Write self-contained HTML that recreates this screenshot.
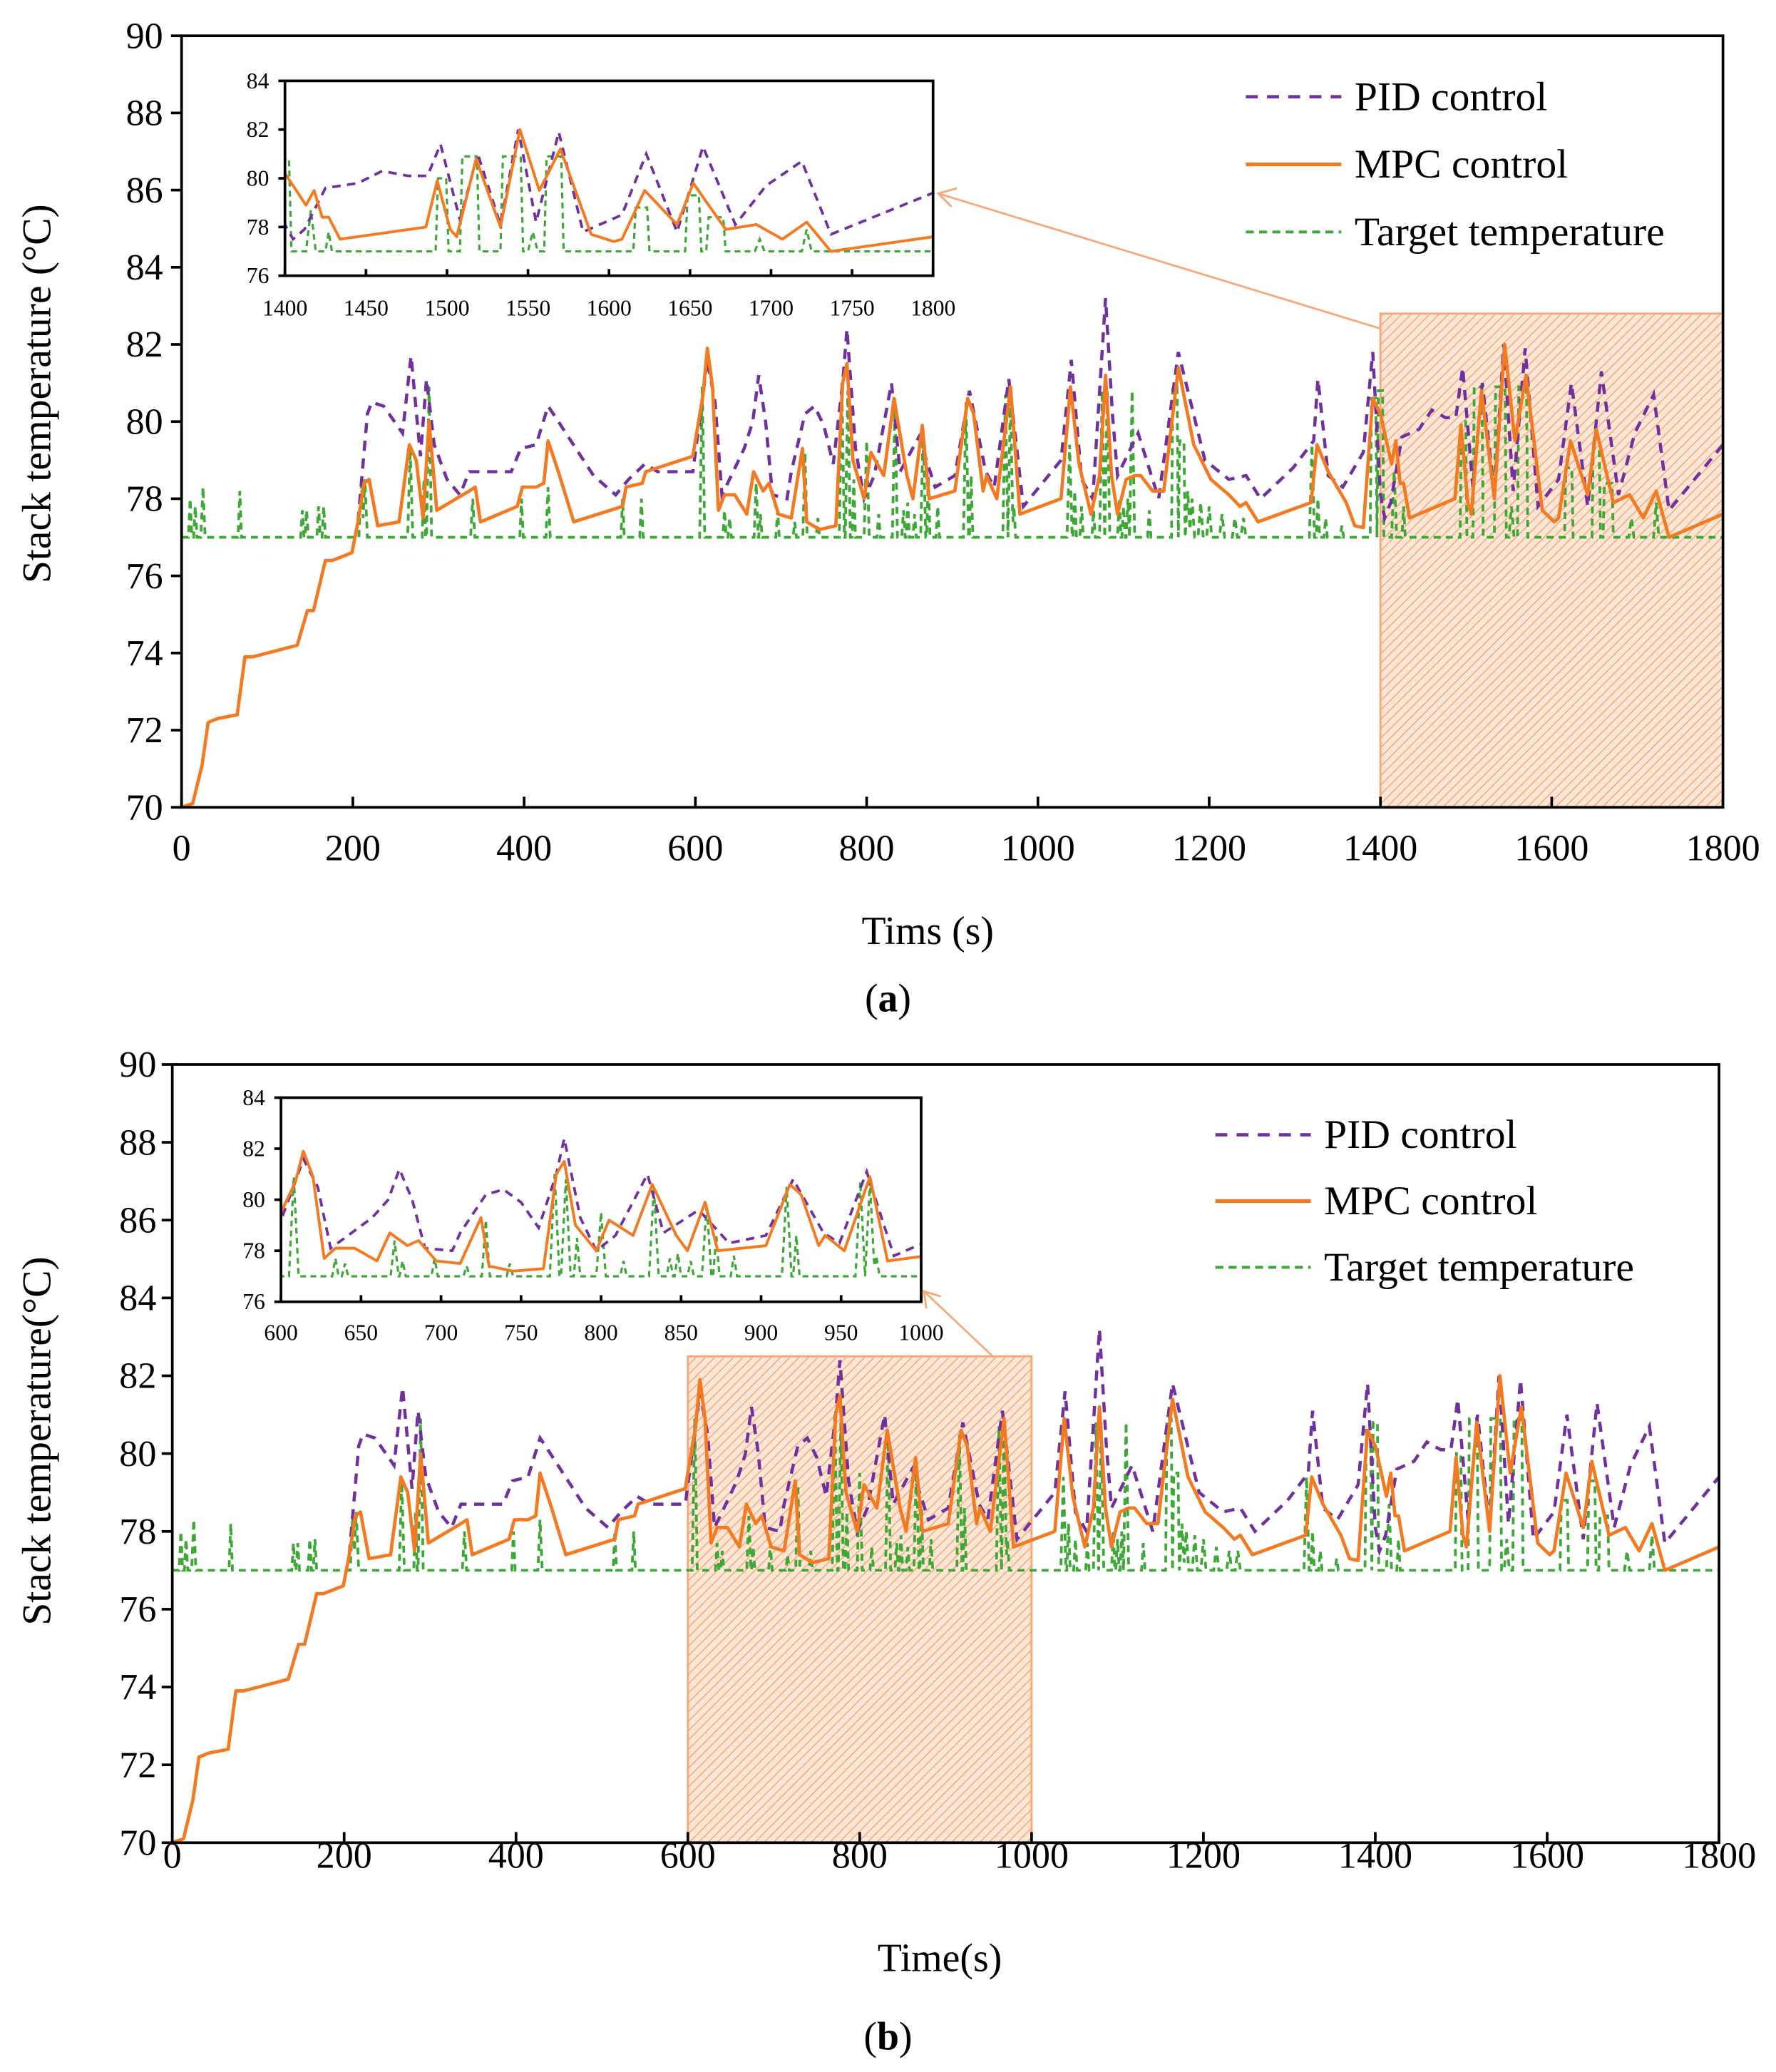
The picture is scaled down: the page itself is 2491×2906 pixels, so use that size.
<!DOCTYPE html>
<html><head><meta charset="utf-8"><style>
html,body{margin:0;padding:0;background:#fff}
svg{display:block}
text{font-family:"Liberation Serif",serif;fill:#000}
</style></head><body>
<svg id="fig" width="2491" height="2906" viewBox="0 0 1340 1563" preserveAspectRatio="none" xmlns="http://www.w3.org/2000/svg">
<defs>
<pattern id="hatch" patternUnits="userSpaceOnUse" width="5" height="5" patternTransform="rotate(45)">
<rect width="5" height="5" fill="#fde6d6"/>
<line x1="0" y1="0" x2="0" y2="5" stroke="#f6a878" stroke-width="1.6"/>
</pattern>
</defs>
</svg>
<script>
// ===== DATA =====
const tMPC=[0,13,24,31,42,65,74,83,135,147,154,168,176,199,206,213,219,229,254,266,274,282,289,298,336,343,349,392,398,414,423,428,440,458,515,519,538,542,597,609,614,620,627,634,646,660,668,679,686,697,712,725,730,745,764,772,777,784,797,805,820,832,847,854,865,873,903,918,925,936,940,952,968,979,1027,1038,1048,1062,1072,1079,1086,1093,1103,1113,1120,1134,1147,1164,1182,1202,1223,1236,1243,1257,1319,1326,1339,1360,1370,1380,1391,1400,1413,1418,1423,1427,1434,1487,1494,1502,1506,1518,1533,1545,1557,1570,1589,1603,1608,1622,1642,1652,1672,1691,1707,1722,1737,1800];
const vMPC=[70,70.1,71.1,72.2,72.3,72.4,73.9,73.9,74.2,75.1,75.1,76.4,76.4,76.6,77.4,78.4,78.5,77.3,77.4,79.4,79.0,77.5,80.0,77.7,78.2,78.3,77.4,77.8,78.3,78.3,78.4,79.5,78.7,77.4,77.8,78.3,78.4,78.7,79.1,80.7,81.9,80.9,77.7,78.1,78.1,77.6,78.7,78.2,78.4,77.6,77.5,79.3,77.4,77.2,77.3,81.0,81.5,79.0,78.0,79.2,78.6,80.6,78.6,78.0,79.9,78.0,78.2,80.6,80.2,78.2,78.6,78.0,80.9,77.6,78.0,80.9,78.9,77.6,78.6,81.2,78.6,77.6,78.5,78.6,78.6,78.2,78.2,81.4,79.4,78.5,78.1,77.8,77.9,77.4,77.9,79.4,78.7,77.9,77.3,77.25,80.6,80.2,78.9,79.5,78.4,78.4,77.5,78.0,79.9,77.9,77.6,80.8,78.0,82.0,79.5,81.2,77.7,77.4,77.5,79.5,78.1,79.8,77.9,78.1,77.5,78.2,77.0,77.6];
const tPID=[206,217,222,236,258,268,279,286,295,310,325,336,349,385,396,414,428,440,481,507,522,541,556,597,609,614,623,631,642,657,667,674,682,690,707,712,728,739,750,761,772,777,787,797,809,829,839,861,880,903,920,939,949,966,983,1027,1039,1051,1064,1079,1087,1093,1117,1141,1164,1195,1223,1243,1260,1298,1322,1327,1339,1356,1380,1391,1400,1405,1412,1425,1445,1460,1476,1488,1496,1508,1519,1533,1544,1555,1569,1584,1608,1623,1642,1658,1678,1697,1719,1737,1800];
const vPID=[77.4,80.2,80.5,80.4,79.7,81.7,79.1,81.1,79.4,78.5,78.1,78.7,78.7,78.7,79.3,79.4,80.4,80.0,78.6,78.1,78.5,78.9,78.7,78.7,80.7,81.6,80.5,78.1,78.6,79.3,80.0,81.2,80.0,78.1,78.0,78.7,80.2,80.4,79.9,78.9,81.0,82.4,79.3,78.0,78.6,81.0,78.7,79.6,78.3,78.6,80.8,78.7,78.3,81.1,77.8,79.0,81.6,78.5,78.0,83.2,80.2,78.6,79.7,78.0,81.8,79.0,78.5,78.6,78.0,78.8,79.5,81.1,78.6,78.3,79.2,81.8,78.1,77.5,77.9,79.6,79.8,80.3,80.1,80.1,81.4,78.3,81.0,78.1,82.0,78.2,81.9,77.8,78.5,81.0,77.8,81.3,78.1,79.7,80.7,77.7,79.4];
const baseTarget=77;
const spikeT=[10,16,25,68,141,146,160,166,210,214,267,283,289,340,397,428,515,537,608,634,640,671,676,696,716,728,743,771,778,785,800,814,833,843,848,856,866,872,883,916,922,962,968,972,1037,1043,1051,1065,1075,1081,1095,1100,1105,1110,1130,1160,1168,1175,1180,1190,1200,1215,1230,1240,1320,1327,1336,1355,1392,1400,1416,1427,1497,1514,1540,1553,1566,1620,1652,1666,1693,1722];
const spikeV=[78.0,77.8,78.3,78.2,77.7,77.7,77.8,77.8,78.4,78.5,79.3,78.5,80.9,78.0,78.0,78.3,78.0,78.0,80.9,77.7,77.5,78.4,77.6,77.7,77.4,79.2,77.5,81.0,80.8,78.5,79.5,77.6,80.5,77.7,77.9,77.6,79.8,78.6,77.8,80.5,78.6,80.7,80.7,77.8,79.4,78.2,77.8,77.7,80.8,80.8,78.0,77.8,78.0,80.8,77.7,80.9,79.5,78.2,78.0,77.9,77.8,77.6,77.5,77.5,79.4,78.0,77.5,77.3,80.6,80.8,78.7,77.8,80.0,80.9,80.9,77.8,80.9,78.8,79.3,78.4,77.5,77.9];
const spikeW=[2,2,2.5,2,2,2,2,2,3,3,3,2,3,2.5,2,2.5,2,2,3,2,2,2.5,2,2,2,2.5,2,3,3,2,3,2,3,2,2,2,3,2,2,3,2,3,3,2,3,2,2,2,3,3,2,2,2,3,2,4,4,3,3,3,3,3,3,3,3,2,2,2,4,4,3,2,4,6,7,3,6,5,5,6,3,3];
const xTicksMain=[0,200,400,600,800,1000,1200,1400,1600,1800];
const yTicksMain=[70,72,74,76,78,80,82,84,86,88,90];
const yTicksInset=[76,78,80,82,84];
const xTicksInsetA=[1400,1450,1500,1550,1600,1650,1700,1750,1800];
const xTicksInsetB=[600,650,700,750,800,850,900,950,1000];

// ===== RENDER =====
const NS='http://www.w3.org/2000/svg';
const svg=document.getElementById('fig');
function mk(tag,attrs,parent){const e=document.createElementNS(NS,tag);for(const k in attrs)e.setAttribute(k,attrs[k]);(parent||svg).appendChild(e);return e;}
function txt(s,x,y,size,anchor,parent){const e=mk('text',{x:x,y:y,'font-size':size,'text-anchor':anchor||'middle'},parent);e.textContent=s;return e;}

function targetSeries(){
  const pts=[];
  for(let t=0;t<=1800;t+=0.5){
    let v=baseTarget;
    for(let i=0;i<spikeT.length;i++){
      const d=Math.abs(t-spikeT[i]),w=spikeW[i];
      if(d<w){
        let f=w>3?Math.min(1,(w-d)/1.5):(1-d/w);
        v=Math.max(v,baseTarget+(spikeV[i]-baseTarget)*f);
      }
    }
    pts.push([t,v]);
  }
  return pts;
}
const targetPts=targetSeries();

let clipId=0;
function drawPanel(p,name){
  const g=mk('g',{});
  
  
  const X=t=>p.L+(t-p.x0)/(p.x1-p.x0)*(p.R-p.L);
  const Y=v=>p.B-(v-p.y0)/(p.y1-p.y0)*(p.B-p.T);
  const cid='clip'+(clipId++);
  const cp=mk('clipPath',{id:cid},g);mk('rect',{x:p.L,y:p.T,width:p.R-p.L,height:p.B-p.T},cp);
  if(p.bg){mk('rect',{x:p.L,y:p.T,width:p.R-p.L,height:p.B-p.T,fill:'#fff'},g);}
  if(p.hatch){
    const h=mk('rect',{x:X(p.hatch[0]),y:Y(p.hatch[2]),width:X(p.hatch[1])-X(p.hatch[0]),height:p.B-Y(p.hatch[2]),fill:'url(#hatch)',stroke:'#f6a878','stroke-width':1.5},g);
    
    
  }
  const lg=mk('g',{'clip-path':'url(#'+cid+')'},g);
  const sw=p.sw;
  const tp=mk('polyline',{points:targetPts.map(q=>X(q[0]).toFixed(2)+','+Y(q[1]).toFixed(2)).join(' '),fill:'none',stroke:'#3ea836','stroke-width':sw*0.85,'stroke-dasharray':(sw*2.2)+','+(sw*1.6)},lg);
  
  
  const pp=mk('polyline',{points:tPID.map((t,i)=>X(t).toFixed(2)+','+Y(vPID[i]).toFixed(2)).join(' '),fill:'none',stroke:'#7030a0','stroke-width':sw,'stroke-dasharray':(sw*3.2)+','+(sw*2.4)},lg);
  
  
  const mp=mk('polyline',{points:tMPC.map((t,i)=>X(t).toFixed(2)+','+Y(vMPC[i]).toFixed(2)).join(' '),fill:'none',stroke:'#f47a22','stroke-width':sw*1.05,'stroke-linejoin':'round'},lg);
  
  
  const fr=mk('rect',{x:p.L,y:p.T,width:p.R-p.L,height:p.B-p.T,fill:'none',stroke:'#000','stroke-width':p.aw},g);
  
  
  p.xt.forEach(t=>{mk('line',{x1:X(t),x2:X(t),y1:p.B,y2:p.B-p.tl,stroke:'#000','stroke-width':p.aw},g);
    const e=txt(String(t),X(t),p.B+p.xoff,p.fs,'middle',g);
    
    });
  p.yt.forEach(v=>{mk('line',{x1:p.L-p.tl,x2:p.L,y1:Y(v),y2:Y(v),stroke:'#000','stroke-width':p.aw},g);
    const e=txt(String(v),p.L-p.yoff,Y(v)+p.fs*0.33,p.fs,'end',g);
    
    });
  return {X,Y};
}

function legend(x,y0,dy,name){
  const g=mk('g',{});
  
  
  const items=[['PID control','#7030a0','9,7',2.5],['MPC control','#f47a22','',2.8],['Target temperature','#3ea836','6,4',2.2]];
  items.forEach((it,i)=>{
    const y=y0+i*dy;
    const a={x1:x,x2:x+72,y1:y,y2:y,stroke:it[1],'stroke-width':it[3]};
    if(it[2])a['stroke-dasharray']=it[2];
    mk('line',a,g);
    const e=txt(it[0],x+82,y+10,31,'start',g);
    
    
  });
}

// Panel (a)
drawPanel({L:137,T:27,R:1300,B:609,x0:0,x1:1800,y0:70,y1:90,xt:xTicksMain,yt:yTicksMain,fs:28,xoff:40,yoff:14,tl:8,aw:2,sw:2.4,hatch:[1400,1800,82.8]},'chart-a');
mk('line',{x1:1042,y1:248,x2:708,y2:146,stroke:'#f6a878','stroke-width':1.5});
mk('polyline',{points:'722,142 708,146 718,156',fill:'none',stroke:'#f6a878','stroke-width':1.5});
drawPanel({L:215,T:61,R:704,B:208,x0:1400,x1:1800,y0:76,y1:84,xt:xTicksInsetA,yt:yTicksInset,fs:17,xoff:30,yoff:12,tl:5,aw:2,sw:2,bg:true},'inset-a');
legend(940,73,51,'legend-a');
let e=txt('Stack temperature (°C)',0,0,31,'middle');e.setAttribute('transform','translate(38,297) rotate(-90)');


e=txt('Tims (s)',700,712,30);


e=txt('(a)',670,763,30);e.innerHTML='(<tspan font-weight="bold">a</tspan>)';



// Panel (b)
drawPanel({L:130,T:803,R:1297,B:1390,x0:0,x1:1800,y0:70,y1:90,xt:xTicksMain,yt:yTicksMain,fs:28,xoff:19,yoff:12,tl:8,aw:2,sw:2.4,hatch:[600,1000,82.5]},'chart-b');
mk('line',{x1:750,y1:1024,x2:697,y2:974,stroke:'#f6a878','stroke-width':1.5});
mk('polyline',{points:'699,987 697,974 710,978',fill:'none',stroke:'#f6a878','stroke-width':1.5});
drawPanel({L:212,T:828,R:695,B:982,x0:600,x1:1000,y0:76,y1:84,xt:xTicksInsetB,yt:yTicksInset,fs:17,xoff:29,yoff:12,tl:5,aw:2,sw:2,bg:true},'inset-b');
legend(917,856,50,'legend-b');
e=txt('Stack temperature(°C)',0,0,31,'middle');e.setAttribute('transform','translate(38,1087) rotate(-90)');


e=txt('Time(s)',709,1487,30);


e=txt('(b)',670,1546,30);e.innerHTML='(<tspan font-weight="bold">b</tspan>)';


</script>
</body></html>
